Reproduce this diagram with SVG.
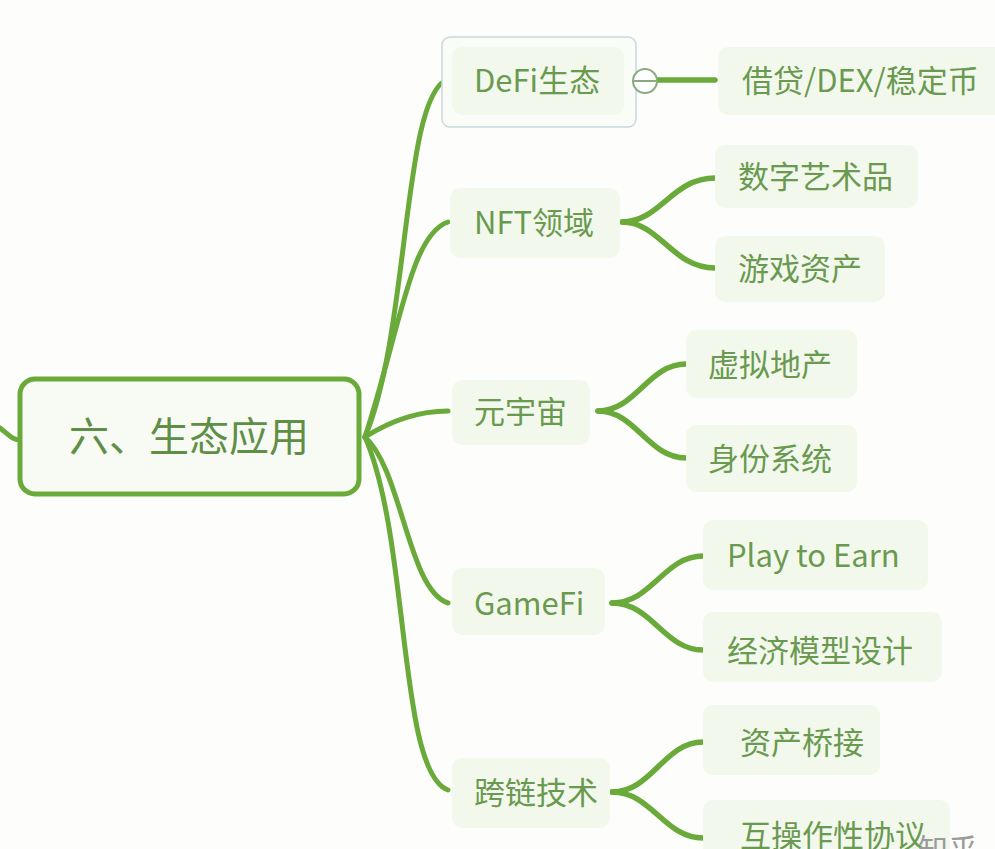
<svg xmlns="http://www.w3.org/2000/svg" width="995" height="849" viewBox="0 0 995 849">
<style>
.bg{fill:#fdfefb}
.box{fill:#f3f8ec}
.t{font-family:"Noto Sans CJK SC","Noto Sans",sans-serif;font-size:31px;font-weight:400;fill:#699a50}
.root{font-family:"Noto Sans CJK SC","Noto Sans",sans-serif;font-size:40px;font-weight:400;fill:#5f8f47}
.c{fill:none;stroke:#6aaa3a;stroke-width:5;stroke-linecap:round}
.c2{fill:none;stroke:#6aaa3a;stroke-width:5.5;stroke-linecap:round}
</style>
<rect class="bg" x="0" y="0" width="995" height="849"/>
<g id="connectors">
<path class="c" d="M0,428 C8,434 12,440 20,440"/>
<path class="c" d="M365,437 C410,330 402,95 448,79"/>
<path class="c" d="M365,437 C400,330 410,235 448,222"/>
<path class="c" d="M365,437 C392,420 420,411 448,411"/>
<path class="c" d="M365,437 C402,470 408,590 448,603"/>
<path class="c" d="M365,437 C410,540 398,772 448,790"/>
<path class="c2" d="M657,80 L715,80"/>
<path class="c2" d="M622,222 C660,222 672,178 715,178"/>
<path class="c2" d="M622,222 C660,222 672,268 715,268"/>
<path class="c2" d="M598,411 C636,411 648,364 686,364"/>
<path class="c2" d="M598,411 C636,411 648,458 686,458"/>
<path class="c2" d="M612,603 C652,603 664,556 703,556"/>
<path class="c2" d="M612,603 C652,603 664,650 703,650"/>
<path class="c2" d="M612,792 C652,792 664,742 703,742"/>
<path class="c2" d="M612,792 C652,792 664,838 703,838"/>
</g>
<g id="root">
<rect x="20" y="379" width="339" height="115" rx="15" fill="#f8fbf3" stroke="#6aaa3a" stroke-width="5"/>
<text class="root" x="189" y="451" text-anchor="middle">六、生态应用</text>
</g>
<g id="defi">
<rect x="442" y="37" width="194" height="90" rx="8" fill="#fafdf7" stroke="#c8d8de" stroke-width="1.5"/>
<rect class="box" x="452" y="47" width="172" height="68" rx="10"/>
<text class="t" x="474" y="92">DeFi生态</text>
<circle cx="645" cy="81" r="12" fill="#ffffff" stroke="#8aaa80" stroke-width="2"/>
<line x1="634" y1="81" x2="656" y2="81" stroke="#8aaa80" stroke-width="2"/>
</g>
<g id="defi-c1">
<rect class="box" x="718" y="47" width="290" height="68" rx="10"/>
<text class="t" x="742" y="92">借贷/DEX/稳定币</text>
</g>
<g id="nft">
<rect class="box" x="450" y="188" width="170" height="70" rx="10"/>
<text class="t" x="474" y="234">NFT领域</text>
</g>
<g id="nft-c1">
<rect class="box" x="715" y="145" width="203" height="63" rx="10"/>
<text class="t" x="738" y="188">数字艺术品</text>
</g>
<g id="nft-c2">
<rect class="box" x="715" y="236" width="170" height="66" rx="10"/>
<text class="t" x="738" y="280">游戏资产</text>
</g>
<g id="meta">
<rect class="box" x="452" y="380" width="138" height="65" rx="10"/>
<text class="t" x="474" y="423">元宇宙</text>
</g>
<g id="meta-c1">
<rect class="box" x="686" y="330" width="171" height="68" rx="10"/>
<text class="t" x="708" y="376">虚拟地产</text>
</g>
<g id="meta-c2">
<rect class="box" x="686" y="425" width="171" height="67" rx="10"/>
<text class="t" x="708" y="470">身份系统</text>
</g>
<g id="gamefi">
<rect class="box" x="452" y="568" width="153" height="67" rx="10"/>
<text class="t" x="474" y="615">GameFi</text>
</g>
<g id="gamefi-c1">
<rect class="box" x="703" y="520" width="225" height="70" rx="10"/>
<text class="t" x="727" y="567">Play to Earn</text>
</g>
<g id="gamefi-c2">
<rect class="box" x="703" y="612" width="239" height="70" rx="10"/>
<text class="t" x="727" y="662">经济模型设计</text>
</g>
<g id="cross">
<rect class="box" x="452" y="758" width="158" height="70" rx="10"/>
<text class="t" x="474" y="804">跨链技术</text>
</g>
<g id="cross-c1">
<rect class="box" x="703" y="705" width="177" height="70" rx="10"/>
<text class="t" x="740" y="754">资产桥接</text>
</g>
<g id="cross-c2">
<rect class="box" x="703" y="800" width="247" height="60" rx="10"/>
<text class="t" x="740" y="847">互操作性协议</text>
</g>
<text x="918" y="860" font-family="Noto Sans CJK SC, sans-serif" font-size="30" fill="#9a9a9a">知乎</text>
</svg>
